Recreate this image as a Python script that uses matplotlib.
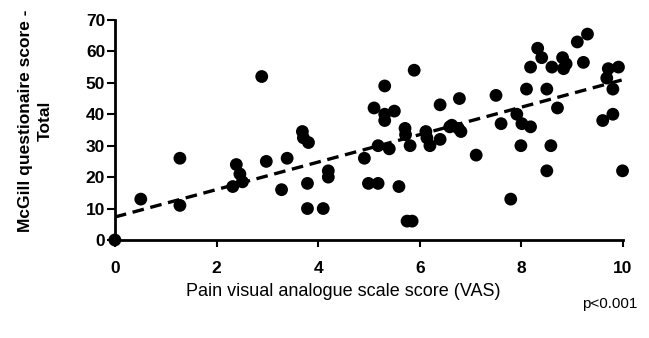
import matplotlib
matplotlib.use("Agg")
import matplotlib.pyplot as plt

plt.rcParams['font.family'] = ['Liberation Sans', 'DejaVu Sans']

vas = [0.0, 0.51, 1.28, 1.28, 2.32, 2.39, 2.46, 2.51, 2.89, 2.98, 3.28, 3.39,
       3.69, 3.71, 3.81, 3.79, 3.79, 4.10, 4.20, 4.20, 4.91, 4.99, 5.18, 5.10,
       5.31, 5.31, 5.31, 5.50, 5.18, 5.40, 5.59, 5.71, 5.72, 5.81, 5.75, 5.85,
       5.89, 6.12, 6.14, 6.20, 6.40, 6.40, 6.59, 6.76, 6.78, 6.63, 6.81, 7.11,
       7.50, 7.60, 7.79, 7.91, 8.01, 8.18, 7.99, 8.10, 8.18, 8.32, 8.40, 8.50,
       8.58, 8.50, 8.71, 8.60, 8.81, 8.83, 8.88, 9.22, 9.10, 9.30, 9.60, 9.80,
       9.71, 9.68, 9.91, 9.80, 9.99]
mcgill = [0, 13, 26, 11, 17, 24, 21, 18.5, 52, 25, 16, 26,
          34.5, 32.5, 31, 18, 10, 10, 22, 20, 26, 18, 18, 42,
          49, 40, 38, 41, 30, 29, 17, 35.5, 33.5, 30, 6, 6,
          54, 34.5, 32.5, 30, 32, 43, 36, 35.5, 45, 36.5, 34.5, 27,
          46, 37, 13, 40, 37, 36, 30, 48, 55, 61, 58, 48,
          30, 22, 42, 55, 58, 54.5, 56, 56.5, 63, 65.5, 38, 40,
          54.5, 51.5, 55, 48, 22]

trend_x = [0, 10]
trend_y = [7.3, 51.0]

x_ticks = [0, 2, 4, 6, 8, 10]
y_ticks = [0, 10, 20, 30, 40, 50, 60, 70]

fig = plt.figure(figsize=(6.49, 3.38), dpi=100)
ax = fig.add_axes([0.177, 0.29, 0.783, 0.651])

ax.scatter(vas, mcgill, s=85, color='black', edgecolors='none', zorder=3, clip_on=False)
ax.plot(trend_x, trend_y, color='black', linestyle=(0, (3.5, 2)), linewidth=2.4, zorder=2)

ax.set_xlim(0, 10)
ax.set_ylim(0, 70)
ax.set_xticks(x_ticks)
ax.set_yticks(y_ticks)
ax.set_xticklabels([str(t) for t in x_ticks], fontsize=12.5, fontweight='bold')
ax.set_yticklabels([str(t) for t in y_ticks], fontsize=12.5, fontweight='bold')

for s in ['top', 'right']:
    ax.spines[s].set_visible(False)
for s in ['left', 'bottom']:
    ax.spines[s].set_linewidth(2)
ax.tick_params(axis='x', direction='out', width=1.5, length=5, pad=10)
ax.tick_params(axis='y', direction='out', width=1.5, length=6, pad=1)

fig.text(343 / 649, 1 - 292 / 338, 'Pain visual analogue scale score (VAS)',
         ha='center', va='center', fontsize=13)
fig.text(35 / 649, 1 - 121 / 338, 'McGill questionaire score -\nTotal',
         ha='center', va='center', rotation=90, multialignment='center',
         fontsize=12.5, fontweight='bold', linespacing=1.4)

fig.text(0.982, 1 - 308 / 338, 'p<0.001', ha='right', va='baseline', fontsize=11)

fig.savefig('out.png', dpi=100)
